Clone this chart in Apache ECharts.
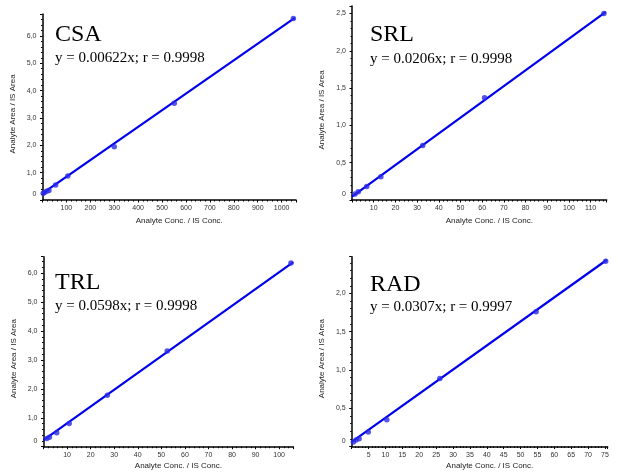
<!DOCTYPE html>
<html>
<head>
<meta charset="utf-8">
<script src="https://cdn.jsdelivr.net/npm/echarts/dist/echarts.min.js"></script>
<style>
html,body{margin:0;padding:0;background:#fff;}
#c{width:618px;height:472px;}
</style>
</head>
<body>
<div id="c"></div>
<script>
// calibration points
var csaX = [3, 8, 17, 27, 55, 106, 300, 551, 1049];
var csaY = [0.25, 0.27, 0.32, 0.35, 0.55, 0.88, 1.95, 3.54, 6.64];
var csaFitX = [0, 1055];
var csaFitY = [0.245, 6.66];

var srlX = [1.4, 2.9, 6.8, 13.3, 32.6, 61.1, 116.1];
var srlY = [0.08, 0.11, 0.18, 0.31, 0.73, 1.37, 2.50];
var srlFitX = [0, 117];
var srlFitY = [0.045, 2.52];

var trlX = [1.4, 2.5, 5.6, 10.9, 27.1, 52.5, 105];
var trlY = [0.28, 0.33, 0.48, 0.80, 1.78, 3.31, 6.35];
var trlFitX = [0, 106];
var trlFitY = [0.23, 6.38];

var radX = [0.5, 1.3, 2.2, 4.9, 10.4, 26.1, 54.6, 75.2];
var radY = [0.06, 0.085, 0.10, 0.19, 0.35, 0.89, 1.76, 2.42];
var radFitX = [0, 75.6];
var radFitY = [0.06, 2.44];

var names = ['CSA', 'SRL', 'TRL', 'RAD'];
var equations = [
    'y = 0.00622x; r = 0.9998',
    'y = 0.0206x; r = 0.9998',
    'y = 0.0598x; r = 0.9998',
    'y = 0.0307x; r = 0.9997'
];

var panels = [
    {x: csaX, y: csaY, fx: csaFitX, fy: csaFitY, xMax: 1060, xStep: 100, yMax: 6.8, yStep: 1,
     grid: {left: 42.5, top: 14, width: 253.5, height: 186}, t: [55, 22.5, 51], gap: 17},
    {x: srlX, y: srlY, fx: srlFitX, fy: srlFitY, xMax: 117.4, xStep: 10, yMax: 2.6, yStep: 0.5,
     grid: {left: 352, top: 6, width: 254.7, height: 194}, t: [370, 23, 52], gap: 17},
    {x: trlX, y: trlY, fx: trlFitX, fy: trlFitY, xMax: 106, xStep: 10, yMax: 6.57, yStep: 1,
     grid: {left: 43.5, top: 256.7, width: 249.8, height: 190}, t: [55, 270.5, 299], gap: 15.5},
    {x: radX, y: radY, fx: radFitX, fy: radFitY, xMax: 75.8, xStep: 5, yMax: 2.48, yStep: 0.5,
     grid: {left: 351.7, top: 256.7, width: 256, height: 189.8}, t: [370, 273, 300], gap: 15.5}
];

function pairs(xs, ys) {
    return xs.map(function(v, i) { return [v, ys[i]]; });
}

var sans = 'Liberation Sans, Arial, sans-serif';
var serif = 'Liberation Serif, Times New Roman, serif';

var option = {
    animation: false,
    backgroundColor: '#fff',
    title: [],
    grid: [],
    xAxis: [],
    yAxis: [],
    series: []
};

panels.forEach(function(p, i) {
    option.grid.push(p.grid);
    option.title.push({
        text: names[i], left: p.t[0], top: p.t[1], padding: 0,
        textStyle: {fontFamily: serif, fontSize: 24, fontWeight: 'normal', color: '#000'}
    });
    option.title.push({
        text: equations[i], left: p.t[0], top: p.t[2], padding: 0,
        textStyle: {fontFamily: serif, fontSize: 15, fontWeight: 'normal', color: '#000'}
    });
    option.xAxis.push({
        type: 'value', gridIndex: i, min: 0, max: p.xMax, interval: p.xStep,
        name: 'Analyte Conc. / IS Conc.', nameLocation: 'middle', nameGap: p.gap,
        nameTextStyle: {fontFamily: sans, fontSize: 8, color: '#222', padding: [0, 0, 0, 20]},
        axisLine: {lineStyle: {color: '#000', width: 1.5}},
        axisTick: {length: 2.5, lineStyle: {color: '#000'}},
        minorTick: {show: true, splitNumber: 5, length: 1.5, lineStyle: {color: '#000'}},
        splitLine: {show: false},
        axisLabel: {
            fontFamily: sans, fontSize: 7, color: '#333', margin: 5,
            showMinLabel: false, showMaxLabel: false,
            formatter: function(v) { return String(v); }
        }
    });
    option.yAxis.push({
        type: 'value', gridIndex: i, min: 0, max: p.yMax, interval: p.yStep,
        name: 'Analyte Area / IS Area', nameLocation: 'middle', nameGap: 26,
        nameTextStyle: {fontFamily: sans, fontSize: 8, color: '#222', padding: [0, 14, 0, 0]},
        axisLine: {lineStyle: {color: '#000', width: 1.5}},
        axisTick: {length: 2.5, lineStyle: {color: '#000'}},
        minorTick: {show: true, splitNumber: 5, length: 1.5, lineStyle: {color: '#000'}},
        splitLine: {show: false},
        axisLabel: {
            fontFamily: sans, fontSize: 7, color: '#333', margin: 6, showMaxLabel: false,
            formatter: function(v) {
                if (v === 0) return '{z|0}';
                return v.toFixed(1).replace('.', ',');
            },
            rich: {z: {fontFamily: sans, fontSize: 7, color: '#333', padding: [0, 0, 11, 0]}}
        }
    });
    option.series.push({
        type: 'line', xAxisIndex: i, yAxisIndex: i, data: pairs(p.fx, p.fy),
        showSymbol: false, lineStyle: {color: '#0000ee', width: 2.2}, z: 2
    });
    option.series.push({
        type: 'scatter', xAxisIndex: i, yAxisIndex: i, data: pairs(p.x, p.y),
        symbol: 'circle', symbolSize: 5.5, itemStyle: {color: '#2a2ae6'}, z: 3
    });
});

var chart = echarts.init(document.getElementById('c'), null, {renderer: 'canvas'});
chart.setOption(option);
</script>
</body>
</html>
